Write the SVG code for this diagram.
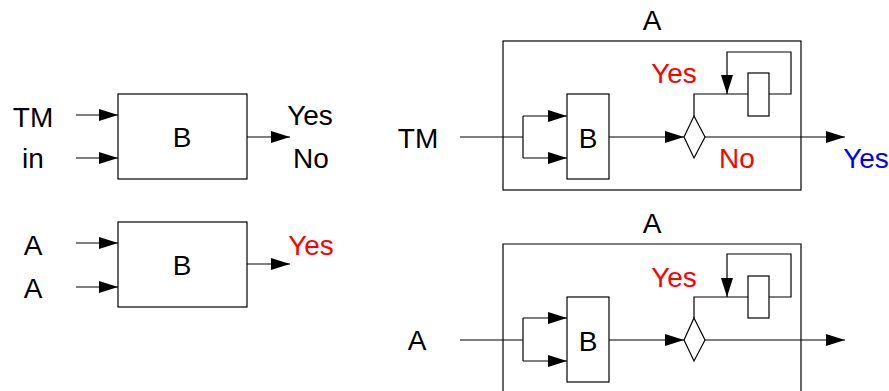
<svg xmlns="http://www.w3.org/2000/svg" width="889" height="391" viewBox="0 0 889 391">
<style>
text{font-family:"Liberation Sans",Arial,sans-serif;font-size:28px;text-anchor:middle;fill:#000}
.red{fill:#ff0000}
.blue{fill:#0000ff}
.box{fill:#fff;stroke:#000;stroke-width:1.2}
.ln{fill:none;stroke:#000;stroke-width:1.2}
.arr{marker-end:url(#ah)}
</style>
<defs>
<marker id="ah" markerUnits="userSpaceOnUse" markerWidth="20" markerHeight="12" refX="19" refY="6" orient="auto" overflow="visible">
<path d="M0,0 L19,6 L0,12 z" fill="#000"/>
</marker>
</defs>

<g id="tl-block">
<rect class="box" x="118" y="94" width="129" height="85"/>
<text x="182" y="147">B</text>
</g>
<g id="tl-labels">
<text x="33" y="127">TM</text>
<text x="33" y="168">in</text>
<text x="310" y="125">Yes</text>
<text x="311" y="168">No</text>
</g>

<g id="bl-block">
<rect class="box" x="118" y="222" width="129" height="85"/>
<text x="182" y="275">B</text>
</g>
<g id="bl-labels">
<text x="33" y="255">A</text>
<text x="33" y="298">A</text>
<text class="red" x="311" y="255">Yes</text>
</g>

<g id="tr-outer">
<rect class="box" x="503" y="41" width="298" height="149"/>
<text x="652" y="30">A</text>
</g>
<g id="tr-B">
<rect class="box" x="567" y="94" width="42" height="85"/>
<text x="588" y="148">B</text>
</g>
<g id="tr-diamond">
<path class="box" d="M694,116 L705,137 L694,158 L684,137 z"/>
</g>
<g id="tr-small">
<rect class="box" x="748" y="73" width="21" height="43"/>
</g>
<g id="tr-labels">
<text x="418" y="148">TM</text>
<text class="red" x="674" y="83">Yes</text>
<text class="red" x="737" y="168">No</text>
<text class="blue" x="866" y="168">Yes</text>
</g>

<g id="br-outer">
<path class="ln" d="M503,392 L503,244 L801,244 L801,392"/>
<text x="652" y="233">A</text>
</g>
<g id="br-B">
<rect class="box" x="567" y="297" width="42" height="85"/>
<text x="588" y="351">B</text>
</g>
<g id="br-diamond">
<path class="box" d="M694,318 L705,340 L694,361 L684,340 z"/>
</g>
<g id="br-small">
<rect class="box" x="748" y="276" width="21" height="42"/>
</g>
<g id="br-labels">
<text x="417" y="350">A</text>
<text class="red" x="674" y="287">Yes</text>
</g>

<g id="connectors">
<!-- left top -->
<line class="ln arr" x1="76" y1="115" x2="118" y2="115"/>
<line class="ln arr" x1="76" y1="158" x2="118" y2="158"/>
<line class="ln arr" x1="247" y1="137" x2="290" y2="137"/>
<!-- left bottom -->
<line class="ln arr" x1="76" y1="243" x2="118" y2="243"/>
<line class="ln arr" x1="76" y1="287" x2="118" y2="287"/>
<line class="ln arr" x1="247" y1="264" x2="290" y2="264"/>
<!-- right top -->
<line class="ln" x1="460" y1="137" x2="523" y2="137"/>
<line class="ln" x1="523" y1="116" x2="523" y2="158"/>
<line class="ln arr" x1="523" y1="116" x2="567" y2="116"/>
<line class="ln arr" x1="523" y1="158" x2="567" y2="158"/>
<line class="ln arr" x1="609" y1="137" x2="684" y2="137"/>
<line class="ln arr" x1="705" y1="137" x2="845" y2="137"/>
<path class="ln" d="M694,116 L694,94 L748,94"/>
<path class="ln arr" d="M769,94 L791,94 L791,52 L727,52 L727,94"/>
<!-- right bottom -->
<line class="ln" x1="460" y1="340" x2="523" y2="340"/>
<line class="ln" x1="523" y1="318" x2="523" y2="361"/>
<line class="ln arr" x1="523" y1="318" x2="567" y2="318"/>
<line class="ln arr" x1="523" y1="361" x2="567" y2="361"/>
<line class="ln arr" x1="609" y1="340" x2="684" y2="340"/>
<line class="ln arr" x1="705" y1="340" x2="845" y2="340"/>
<path class="ln" d="M694,318 L694,297 L748,297"/>
<path class="ln arr" d="M769,297 L791,297 L791,254 L727,254 L727,297"/>
</g>
</svg>
